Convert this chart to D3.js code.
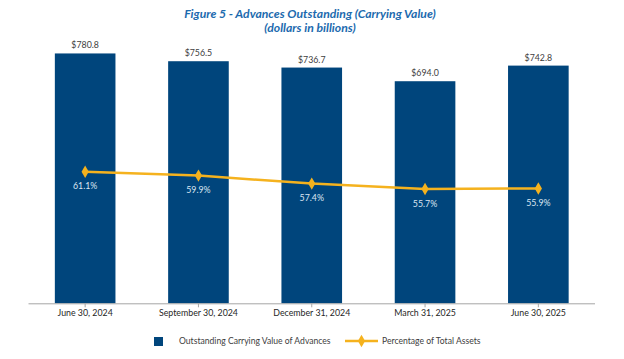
<!DOCTYPE html>
<html><head><meta charset="utf-8">
<script src="https://cdn.jsdelivr.net/npm/d3@7"></script>
<style>body{margin:0;background:#fff}svg{display:block}</style>
</head><body>
<svg id="c" width="624" height="359"></svg>
<script>
const categories = ["June 30, 2024","September 30, 2024","December 31, 2024","March 31, 2025","June 30, 2025"];
const advances = [780.8, 756.5, 736.7, 694.0, 742.8];
const pctAssets = [61.1, 59.9, 57.4, 55.7, 55.9];
const titleLines = ["Figure 5 - Advances Outstanding (Carrying Value)", "(dollars in billions)"];
const legendLabels = ["Outstanding Carrying Value of Advances", "Percentage of Total Assets"];

const svg = d3.select("#c");
const font = "Lato, 'Open Sans', sans-serif";
const barColor = "#00457C", lineColor = "#F5B21E", textColor = "#404040";
const plotLeft = 28.5, plotRight = 595, plotTop = 47.3, plotBottom = 303.3;

const x = d3.scaleBand().domain(categories).range([plotLeft, plotRight]).paddingInner(0.465).paddingOuter(0.2325);
const y = d3.scaleLinear().domain([0, 800]).range([plotBottom, plotTop]);
const y2 = d3.scaleLinear().domain([20, 100]).range([plotBottom, plotTop]);
const cx = d => x(d) + x.bandwidth()/2;

// title
svg.selectAll(".title").data(titleLines).enter().append("text")
  .attr("x", 310).attr("y", (d,i) => 18 + i*13.5)
  .attr("text-anchor","middle").attr("font-family", font)
  .attr("font-size", 12.2).attr("font-weight","bold").attr("font-style","italic")
  .attr("fill","#1C6AAE").text(d => d);

// bars
svg.selectAll(".bar").data(advances).enter().append("rect")
  .attr("x",(d,i)=>x(categories[i])).attr("width", x.bandwidth())
  .attr("y", d=>y(d)).attr("height", d=>plotBottom - y(d)).attr("fill", barColor);

svg.selectAll(".vlab").data(advances).enter().append("text")
  .attr("x",(d,i)=>cx(categories[i])).attr("y", d=>y(d)-5)
  .attr("text-anchor","middle").attr("font-family",font).attr("font-size",8.8)
  .attr("fill",textColor).text(d=>"$"+d.toFixed(1));

// axis
const axis = d3.axisBottom(x).tickSize(4).tickSizeOuter(0);
const g = svg.append("g").attr("transform",`translate(0,${plotBottom})`).call(axis);
g.select(".domain").attr("stroke","#A6A6A6").attr("d",`M${plotLeft},0.5H${plotRight}`);
g.selectAll(".tick line").attr("stroke","#A6A6A6");
g.selectAll(".tick text").attr("font-family",font).attr("font-size",8.8).attr("fill","#262626").attr("dy","0.9em").attr("y",5);

// line
const line = d3.line().x((d,i)=>cx(categories[i])).y(d=>y2(d));
svg.append("path").datum(pctAssets).attr("d", line).attr("fill","none")
  .attr("stroke", lineColor).attr("stroke-width", 2.5);
const diamond = d3.symbol().type(d3.symbolDiamond).size(45);
svg.selectAll(".pt").data(pctAssets).enter().append("path")
  .attr("d", diamond).attr("transform",(d,i)=>`translate(${cx(categories[i])},${y2(d)})`)
  .attr("fill", lineColor);
svg.selectAll(".plab").data(pctAssets).enter().append("text")
  .attr("x",(d,i)=>cx(categories[i])).attr("y", d=>y2(d)+17.5)
  .attr("text-anchor","middle").attr("font-family",font).attr("font-size",8.8)
  .attr("fill","#DCE6F2").text(d=>d.toFixed(1)+"%");

// legend
svg.append("rect").attr("x",154).attr("y",337).attr("width",9).attr("height",9).attr("fill",barColor);
svg.append("text").attr("x",179).attr("y",344).attr("font-family",font).attr("font-size",8.6)
  .attr("fill",textColor).text(legendLabels[0]);
svg.append("line").attr("x1",345).attr("x2",378).attr("y1",341).attr("y2",341)
  .attr("stroke",lineColor).attr("stroke-width",2.5);
svg.append("path").attr("d",diamond).attr("transform","translate(361.5,341)").attr("fill",lineColor);
svg.append("text").attr("x",382).attr("y",344).attr("font-family",font).attr("font-size",8.6)
  .attr("fill",textColor).text(legendLabels[1]);
</script>
</body></html>
